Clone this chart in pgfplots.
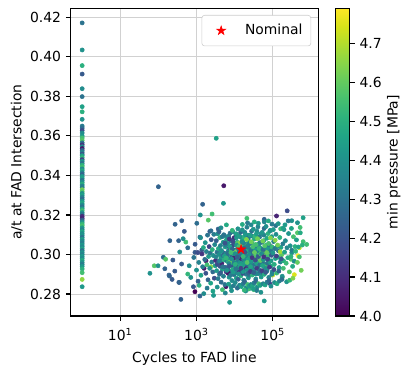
\documentclass[border=0pt]{standalone}
\usepackage{fontspec}
\setmainfont{DejaVu Sans}
\usepackage{pgfplots}
\usepackage{pgfplotstable}
\pgfplotsset{compat=1.18}
\usetikzlibrary{plotmarks}
\pgfplotsset{/pgf/number format/assume math mode=true}
\pgfplotsset{starleg/.style={legend image code/.code={\path (-9.7pt,0pt) (15pt,0pt); \draw[##1] plot coordinates {(0pt,0pt)};}}}
\pgfdeclareplotmark{fstar}{%
  \pgfpathmoveto{\pgfpointpolar{90}{\pgfplotmarksize}}%
  \pgfpathlineto{\pgfpointpolar{126}{0.382\pgfplotmarksize}}%
  \pgfpathlineto{\pgfpointpolar{162}{\pgfplotmarksize}}%
  \pgfpathlineto{\pgfpointpolar{198}{0.382\pgfplotmarksize}}%
  \pgfpathlineto{\pgfpointpolar{234}{\pgfplotmarksize}}%
  \pgfpathlineto{\pgfpointpolar{270}{0.382\pgfplotmarksize}}%
  \pgfpathlineto{\pgfpointpolar{306}{\pgfplotmarksize}}%
  \pgfpathlineto{\pgfpointpolar{342}{0.382\pgfplotmarksize}}%
  \pgfpathlineto{\pgfpointpolar{18}{\pgfplotmarksize}}%
  \pgfpathlineto{\pgfpointpolar{54}{0.382\pgfplotmarksize}}%
  \pgfpathclose\pgfusepathqfillstroke}

\pgfplotstableread{
x y c
1 0.4172 4.30
1 0.4035 4.40
1 0.3956 4.50
1 0.3913 4.22
1 0.3839 4.38
1 0.3799 4.30
1 0.3748 4.45
1 0.3722 4.50
1 0.3684 4.40
1 0.3650 4.33
1 0.3640 4.28
1 0.3628 4.18
1 0.3615 4.38
1 0.3600 4.42
1 0.3590 4.55
1 0.3578 4.58
1 0.3565 4.30
1 0.3555 4.12
1 0.3545 4.40
1 0.3536 4.05
1 0.3527 4.25
1 0.3518 4.35
1 0.3508 4.20
1 0.3500 4.45
1 0.3490 4.52
1 0.3480 4.15
1 0.3472 4.40
1 0.3462 4.30
1 0.3452 4.50
1 0.3443 4.55
1 0.3433 4.38
1 0.3424 4.48
1 0.3414 4.35
1 0.3405 4.25
1 0.3395 4.42
1 0.3386 4.45
1 0.3376 4.30
1 0.3366 4.40
1 0.3356 4.50
1 0.3347 4.36
1 0.3338 4.33
1 0.3328 4.62
1 0.3318 4.58
1 0.3309 4.40
1 0.3300 4.45
1 0.3290 4.35
1 0.3280 4.28
1 0.3270 4.42
1 0.3260 4.48
1 0.3251 4.38
1 0.3241 4.30
1 0.3231 4.45
1 0.3222 4.55
1 0.3212 4.40
1 0.3203 4.32
1 0.3193 4.10
1 0.3183 4.08
1 0.3174 4.25
1 0.3164 4.40
1 0.3154 4.52
1 0.3145 4.56
1 0.3135 4.43
1 0.3125 4.36
1 0.3116 4.47
1 0.3106 4.39
1 0.3097 4.41
1 0.3087 4.30
1 0.3077 4.44
1 0.3068 4.38
1 0.3058 4.34
1 0.3048 4.42
1 0.3039 4.37
1 0.3029 4.46
1 0.3020 4.30
1 0.3010 4.40
1 0.3000 4.35
1 0.2990 4.43
1 0.2981 4.38
1 0.2971 4.48
1 0.2960 4.40
1 0.2950 4.33
1 0.2940 4.42
1 0.2927 4.50
1 0.2908 4.55
1 0.2874 4.66
1 0.2837 4.42
}\colpts

\pgfplotstableread{
x y c
3300 0.3588 4.45
100 0.3343 4.25
5200 0.3348 4.05
5100 0.3259 4.42
1450 0.3254 4.25
240000 0.3221 4.18
630000 0.3186 4.45
60 0.2905 4.40
390 0.2773 4.25
7400 0.2758 4.42
60000 0.2765 4.42
370000 0.2898 4.75
100000 0.2896 4.72
460000 0.2994 4.79
780000 0.3051 4.55
275 0.3153 4.25
410 0.3171 4.25
200 0.3070 4.25
135 0.2986 4.28
78 0.2943 4.58
190 0.2896 4.25
345 0.2859 4.22
910 0.2812 4.00
1550 0.2802 4.38
2800 0.2793 4.42
24000 0.2827 4.40
32000 0.2822 4.55
83000 0.2854 4.15
2570 0.3205 4.55
1260 0.3200 4.40
2040 0.3174 4.58
1020 0.3158 4.28
3720 0.3129 4.25
2240 0.3117 4.22
480 0.3117 4.22
340 0.3070 4.25
525 0.3063 4.55
447 0.3080 4.38
590 0.3034 4.28
363 0.3013 4.38
912 0.3011 4.22
240 0.2972 4.22
155 0.2976 4.58
98 0.2943 4.40
148 0.2928 4.25
270 0.2916 4.22
195 0.2891 4.25
229 0.2874 4.22
355 0.2859 4.25
407 0.2952 4.22
645 0.2943 4.38
590 0.2901 4.52
708 0.2884 4.40
1230 0.2790 4.25
832 0.2837 4.22
1175 0.2844 4.50
1585 0.2930 4.05
2400 0.2938 4.65
1780 0.2968 4.05
1380 0.3023 4.22
126000 0.3195 4.08
21000 0.3183 4.55
60000 0.3178 4.25
316000 0.3171 4.40
447000 0.3161 4.40
525000 0.3137 4.55
447000 0.3110 4.58
630000 0.3065 4.55
500000 0.3034 4.72
316000 0.3009 4.40
302000 0.2976 4.58
190000 0.2930 4.55
178000 0.2884 4.55
49000 0.2809 4.40
69000 0.2916 4.40
36300 0.2901 4.40
22900 0.2825 4.55
12600 0.2837 4.40
8300 0.2817 4.40
5900 0.2837 4.05
850 0.2985 4.30
920 0.3052 4.22
1000 0.2921 4.40
1080 0.3010 4.18
1150 0.2960 4.35
1230 0.3088 4.27
1310 0.2895 4.45
1390 0.3003 4.12
1450 0.2938 4.33
1520 0.3035 4.48
1100 0.2865 4.25
1280 0.3085 4.38
1650 0.2975 4.28
1700 0.3060 4.41
1760 0.2905 4.20
1820 0.3015 4.35
1880 0.2948 4.55
1950 0.3098 4.30
2010 0.2872 4.25
2080 0.2990 4.43
2150 0.3040 4.16
2220 0.2930 4.38
2290 0.3008 4.30
2360 0.2855 4.46
2440 0.3075 4.22
2520 0.2962 4.34
2600 0.3025 4.50
2680 0.2912 4.27
2760 0.2995 4.40
2850 0.3102 4.33
2930 0.2880 4.19
3010 0.3050 4.37
3100 0.2943 4.44
3170 0.2970 4.10
1900 0.2830 4.32
2400 0.3120 4.28
2700 0.2815 4.45
3250 0.2988 4.36
3310 0.3070 4.24
3380 0.2918 4.42
3450 0.3012 4.30
3520 0.2950 4.18
3600 0.3105 4.40
3680 0.2878 4.33
3760 0.3030 4.47
3840 0.2965 4.26
3920 0.3000 4.39
4000 0.2900 4.31
4090 0.3085 4.52
4170 0.2940 4.21
4260 0.3045 4.35
4350 0.2982 4.44
4440 0.2860 4.28
4530 0.3020 4.37
4620 0.2955 4.08
4720 0.3090 4.33
4810 0.2925 4.46
4910 0.2995 4.29
5010 0.3062 4.41
5110 0.2890 4.34
5220 0.3008 4.23
5330 0.2972 4.49
5440 0.3095 4.36
5550 0.2848 4.30
5660 0.3038 4.43
5780 0.2935 4.27
5900 0.3002 4.38
6020 0.2912 4.15
6150 0.3075 4.45
6280 0.2968 4.32
3500 0.2835 4.40
3900 0.3115 4.25
4400 0.3135 4.38
4800 0.2822 4.55
5200 0.3100 4.30
5700 0.2805 4.36
6100 0.3150 4.48
6400 0.2995 4.34
6520 0.3055 4.42
6650 0.2930 4.27
6780 0.3018 4.38
6900 0.2962 4.50
7040 0.3092 4.31
7170 0.2885 4.40
7310 0.3035 4.22
7450 0.2978 4.45
7590 0.3005 4.36
7740 0.2915 4.29
7890 0.3068 4.41
8040 0.2948 4.33
8190 0.3026 4.55
8350 0.2986 4.24
8510 0.2868 4.38
8670 0.3045 4.32
8840 0.2955 4.47
9010 0.3115 4.35
9180 0.2938 4.20
9360 0.3008 4.43
9540 0.3080 4.37
9720 0.2898 4.30
9910 0.2990 4.49
10100 0.3050 4.26
10300 0.2945 4.40
10500 0.3022 4.34
10700 0.2970 4.58
10900 0.3100 4.33
11100 0.2880 4.44
11300 0.3012 4.28
11500 0.2958 4.39
11700 0.3062 4.46
11900 0.2922 4.31
12100 0.2998 4.37
12300 0.3038 4.42
12500 0.2875 4.25
6600 0.3090 4.36
7000 0.2850 4.44
7600 0.3108 4.30
8100 0.2835 4.40
8700 0.3122 4.52
9300 0.2842 4.33
9800 0.3085 4.10
10400 0.2858 4.38
11000 0.3105 4.45
11800 0.2830 4.28
12200 0.3130 4.40
6800 0.2905 4.05
7300 0.3078 4.12
7800 0.2965 4.60
8400 0.3042 4.18
8900 0.2925 4.48
9500 0.2982 4.08
10000 0.3015 4.62
10600 0.2908 4.35
11200 0.3085 4.42
11600 0.2940 4.15
12000 0.3058 4.57
12400 0.2975 4.30
12800 0.2992 4.39
13100 0.3048 4.32
13400 0.2935 4.46
13700 0.3016 4.28
14000 0.2960 4.41
14300 0.3088 4.36
14600 0.2892 4.50
14900 0.3030 4.33
15200 0.2974 4.43
15500 0.3002 4.26
15800 0.2918 4.38
16100 0.3072 4.47
16400 0.2946 4.31
16700 0.3024 4.40
17000 0.2984 4.55
17400 0.2870 4.35
17800 0.3042 4.29
18200 0.2952 4.44
18600 0.3112 4.37
19000 0.2932 4.48
19400 0.3010 4.30
19800 0.3082 4.42
20200 0.2900 4.34
20600 0.2994 4.51
21000 0.3052 4.36
21400 0.2942 4.27
21800 0.3020 4.45
22200 0.2966 4.60
22600 0.3098 4.38
23000 0.2882 4.41
23400 0.3014 4.33
23800 0.2956 4.47
24200 0.3066 4.39
24600 0.2926 4.30
12900 0.3095 4.44
13600 0.2845 4.36
14400 0.3112 4.28
15100 0.2838 4.45
15900 0.3125 4.40
16800 0.2852 4.33
17600 0.3088 4.50
18400 0.2862 4.26
19300 0.3100 4.42
20100 0.2832 4.38
21100 0.3138 4.35
22100 0.2848 4.55
23100 0.3085 4.30
24100 0.2840 4.44
13300 0.2910 4.12
14100 0.3060 4.65
14800 0.2980 4.08
15600 0.3038 4.58
16300 0.2904 4.20
17200 0.3006 4.62
18000 0.2968 4.15
18900 0.3046 4.56
19700 0.2928 4.10
20500 0.3076 4.64
21500 0.2988 4.18
22400 0.3026 4.52
23300 0.2912 4.22
24400 0.3000 4.59
13900 0.3004 4.37
15400 0.2950 4.43
17100 0.3058 4.35
18800 0.2996 4.41
20800 0.2972 4.46
22800 0.3036 4.34
16000 0.3152 4.48
19500 0.2815 4.40
21900 0.3160 4.33
17900 0.2820 4.52
4100 0.2968 4.36
4500 0.3016 4.40
4900 0.2938 4.30
5400 0.2992 4.44
5800 0.3048 4.34
6300 0.2920 4.41
6700 0.3006 4.29
7100 0.2954 4.38
7500 0.3040 4.45
7900 0.2896 4.33
8300 0.2978 4.40
8800 0.3028 4.26
9200 0.2912 4.43
9700 0.2960 4.35
10200 0.3004 4.39
10800 0.2928 4.31
11400 0.3046 4.42
12000 0.2986 4.36
12700 0.2902 4.40
13500 0.3026 4.33
14200 0.2944 4.46
15000 0.2998 4.30
15700 0.3064 4.38
16500 0.2914 4.42
17300 0.2974 4.35
18100 0.3034 4.27
19000 0.2958 4.44
19900 0.2996 4.37
20900 0.2922 4.41
21900 0.3044 4.34
23000 0.2976 4.45
24200 0.2896 4.32
25400 0.3018 4.40
26600 0.2950 4.36
28000 0.3060 4.43
29400 0.2932 4.30
30900 0.2994 4.46
32400 0.3042 4.35
34000 0.2910 4.41
35700 0.2982 4.38
37500 0.3020 4.44
39400 0.2944 4.31
41400 0.3000 4.47
43500 0.2924 4.37
45700 0.3036 4.42
48000 0.2966 4.34
50400 0.2902 4.45
53000 0.3024 4.39
55600 0.2956 4.30
58400 0.3070 4.43
61300 0.2934 4.40
64400 0.2992 4.36
67600 0.3046 4.48
71000 0.2918 4.33
74600 0.2980 4.42
78300 0.3012 4.38
82200 0.2946 4.46
86300 0.3030 4.35
90600 0.2968 4.41
95100 0.2900 4.37
4300 0.2908 4.24
5600 0.3058 4.20
7300 0.2942 4.22
9000 0.3066 4.18
11700 0.2988 4.24
14600 0.2930 4.16
18500 0.3012 4.21
23500 0.2906 4.25
29000 0.3022 4.19
36500 0.2962 4.24
46000 0.3060 4.27
57000 0.2906 4.23
6000 0.2982 4.52
8000 0.3010 4.55
10500 0.2950 4.50
13000 0.3040 4.56
16800 0.2990 4.53
21500 0.2960 4.58
27500 0.3000 4.54
35000 0.3050 4.57
44000 0.2980 4.55
56000 0.3006 4.60
70000 0.2950 4.56
88000 0.3000 4.58
25200 0.3000 4.39
25800 0.3056 4.33
26400 0.2938 4.47
27000 0.3022 4.30
27700 0.2966 4.42
28400 0.3094 4.37
29100 0.2896 4.51
29800 0.3034 4.34
30500 0.2978 4.45
31200 0.3008 4.27
32000 0.2922 4.40
32800 0.3078 4.48
33600 0.2950 4.32
34400 0.3028 4.43
35200 0.2988 4.57
36000 0.2876 4.36
36900 0.3046 4.31
37800 0.2958 4.46
38700 0.3118 4.38
39600 0.2934 4.50
40500 0.3012 4.33
41500 0.3086 4.44
42500 0.2904 4.35
43500 0.2998 4.53
44500 0.3056 4.37
45500 0.2946 4.29
46600 0.3024 4.47
47700 0.2970 4.60
48800 0.3104 4.40
49900 0.2886 4.42
25500 0.3098 4.44
26700 0.2848 4.37
28000 0.3118 4.30
29500 0.2842 4.47
31000 0.3128 4.41
32500 0.2856 4.34
34000 0.3092 4.52
35800 0.2864 4.27
37500 0.3105 4.43
39200 0.2836 4.39
41000 0.3140 4.36
43000 0.2852 4.55
45000 0.3088 4.32
47200 0.2844 4.45
26100 0.2914 4.15
27400 0.3064 4.62
28800 0.2984 4.12
30200 0.3040 4.56
31800 0.2908 4.25
33300 0.3010 4.60
35000 0.2972 4.18
36600 0.3050 4.55
38300 0.2930 4.14
40000 0.3080 4.62
41800 0.2990 4.22
43800 0.3030 4.52
46000 0.2916 4.28
48300 0.3004 4.58
27200 0.3150 4.37
33000 0.3165 4.49
38000 0.2818 4.33
42000 0.3158 4.42
30800 0.2826 4.44
51000 0.3004 4.38
52500 0.3062 4.31
54000 0.2944 4.46
55600 0.3026 4.29
57200 0.2974 4.41
58900 0.3098 4.35
60600 0.2900 4.49
62400 0.3036 4.33
64300 0.2982 4.43
66200 0.3014 4.26
68200 0.2928 4.39
70200 0.3082 4.47
72300 0.2956 4.31
74500 0.3032 4.42
76700 0.2994 4.55
79000 0.2884 4.36
81300 0.3050 4.30
83700 0.2964 4.45
86200 0.3122 4.37
88800 0.2940 4.48
91400 0.3018 4.32
94200 0.3090 4.43
97000 0.2912 4.35
99500 0.3002 4.51
53000 0.3112 4.41
56000 0.2852 4.35
59500 0.3132 4.28
63000 0.2846 4.45
67000 0.3142 4.39
71000 0.2860 4.33
75500 0.3106 4.50
80000 0.2868 4.26
85000 0.3120 4.41
90000 0.2840 4.38
95500 0.3154 4.33
52000 0.2918 4.15
55000 0.3068 4.62
58000 0.2988 4.12
61500 0.3044 4.58
65500 0.2910 4.22
69500 0.3010 4.60
73500 0.2976 4.18
78000 0.3056 4.56
82500 0.2936 4.14
87500 0.3084 4.64
92500 0.2996 4.22
96500 0.3038 4.53
60000 0.3165 4.37
77000 0.3170 4.48
102000 0.3008 4.41
106000 0.3066 4.34
110000 0.2950 4.49
114000 0.3030 4.32
118000 0.2980 4.45
122000 0.3102 4.38
127000 0.2906 4.53
132000 0.3040 4.36
137000 0.2986 4.47
142000 0.3018 4.30
147000 0.2934 4.43
153000 0.3086 4.51
159000 0.2962 4.35
165000 0.3036 4.46
171000 0.2998 4.59
178000 0.2890 4.40
185000 0.3054 4.33
192000 0.2968 4.49
198000 0.3126 4.40
104000 0.3126 4.43
112000 0.2858 4.38
120000 0.3146 4.31
130000 0.2852 4.48
140000 0.3156 4.41
150000 0.2866 4.35
162000 0.3130 4.53
175000 0.2874 4.29
188000 0.3134 4.44
108000 0.2924 4.18
116000 0.3072 4.65
125000 0.2992 4.15
135000 0.3048 4.62
145000 0.2916 4.26
157000 0.3014 4.68
168000 0.2978 4.22
205000 0.3012 4.45
215000 0.3070 4.38
226000 0.2956 4.53
237000 0.3034 4.36
249000 0.2984 4.49
261000 0.3106 4.41
274000 0.2912 4.58
288000 0.3044 4.40
302000 0.2990 4.51
317000 0.3022 4.34
333000 0.2940 4.48
350000 0.3090 4.56
367000 0.2966 4.39
385000 0.3040 4.50
210000 0.3150 4.43
232000 0.2862 4.41
255000 0.3170 4.33
280000 0.2870 4.53
310000 0.3132 4.46
340000 0.2880 4.64
400000 0.3016 4.52
420000 0.3074 4.44
445000 0.2960 4.60
470000 0.3038 4.46
500000 0.2988 4.56
530000 0.3110 4.48
560000 0.2920 4.62
600000 0.3048 4.50
}\clpts

\begin{document}
\begin{tikzpicture}
\useasboundingbox (0,0) rectangle (295.2pt,270pt);
\begin{axis}[
  at={(50.9pt,42.5pt)}, anchor=south west,
  scale only axis, width=178.1pt, height=221.4pt,
  xmode=log, xmin=0.5, xmax=1.55e6, ymin=0.2689, ymax=0.4245,
  xtick={10,1000,100000},
  xticklabels={10\textsuperscript{1},10\textsuperscript{3},10\textsuperscript{5}},
  xticklabel style={yshift=-2pt},
  xminorticks=false,
  ytick={0.28,0.30,0.32,0.34,0.36,0.38,0.40,0.42},
  yticklabel style={/pgf/number format/.cd, fixed, fixed zerofill, precision=2},
  tick pos=left, tick align=outside, major tick length=3.5pt,
  every tick/.style={black, line width=0.8pt},
  axis line style={line width=0.8pt},
  grid=major, grid style={black!18, line width=0.6pt},
  xlabel={Cycles to FAD line}, ylabel={a/t at FAD Intersection},
  xlabel shift=1pt, ylabel shift=-1.5pt,
  colormap/viridis, colorbar,
  colorbar shift/.style={xshift=12pt},
  point meta min=4.0, point meta max=4.79,
  colorbar style={width=10.5pt,
    ytick pos=right, yticklabel pos=right,
    ytick={4.0,4.1,4.2,4.3,4.4,4.5,4.6,4.7},
    yticklabel style={/pgf/number format/.cd, fixed, fixed zerofill, precision=1},
    ylabel={min pressure [MPa]}, ylabel shift=-3pt,
    major tick length=3.5pt, tick align=outside,
    every tick/.style={black, line width=0.8pt},
    axis line style={line width=0.8pt}},
  legend style={at={(1,1)}, xshift=-5pt, yshift=-4.7pt, anchor=north east,
    draw=black!20, rounded corners=2pt, inner xsep=4pt, inner ysep=4.5pt},
  legend cell align=left,
]
\addplot[scatter, only marks, mark=*, mark size=1.5pt, scatter src=explicit,
  scatter/use mapped color={draw=mapped color, fill=mapped color}, forget plot]
  table[x=x, y=y, meta=c] {\colpts};
\addplot[scatter, only marks, mark=*, mark size=1.5pt, scatter src=explicit,
  scatter/use mapped color={draw=mapped color, fill=mapped color}, forget plot]
  table[x=x, y=y, meta=c] {\clpts};
\addplot[only marks, mark=fstar, mark size=3.4pt, color=red,
  mark options={fill=red, draw=red}, starleg]
  coordinates {(14800,0.3026)};
\addlegendentry{Nominal}
\end{axis}
\end{tikzpicture}
\end{document}
